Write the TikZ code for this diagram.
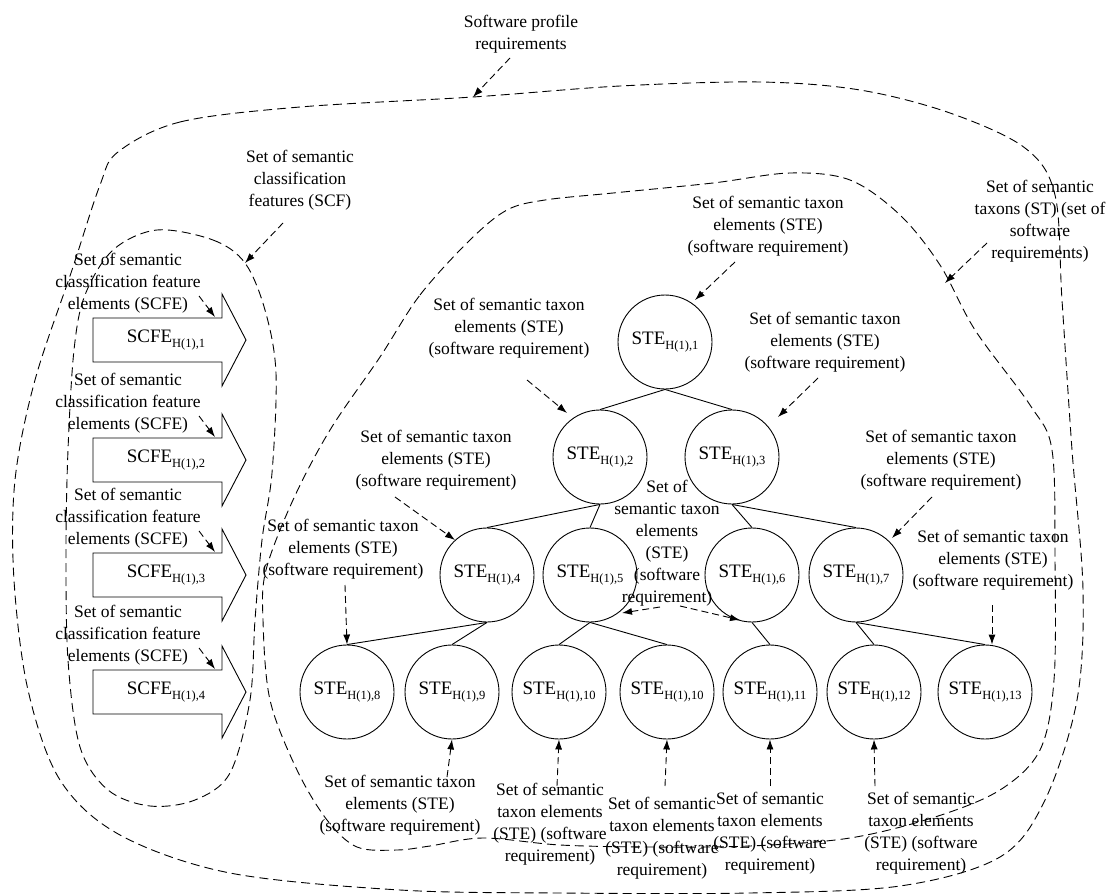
\documentclass[tikz,border=0pt]{standalone}
\usepackage{fontspec}
\setmainfont{Liberation Serif}
\usetikzlibrary{arrows.meta,calc}
\newcommand{\lowsub}[1]{\raisebox{-0.28em}{\fontsize{12.5}{13}\selectfont #1}}
\begin{document}
\begin{tikzpicture}[x=1pt,y=-1pt,
  lbl/.style={align=center, inner sep=0pt, font=\rmfamily\fontsize{17.5}{22}\selectfont},
  ste/.style={circle, draw, line width=0.9pt, minimum size=94pt, inner sep=0pt, font=\rmfamily\fontsize{19}{22}\selectfont},
  treeline/.style={line width=0.9pt},
  darr/.style={dash pattern=on 7pt off 4pt, line width=0.9pt, -{Latex[length=10pt,width=7pt]}},
  bound/.style={dash pattern=on 9pt off 5pt, line width=0.9pt},
  scfebox/.style={line width=0.9pt},
  scfetxt/.style={inner sep=0pt, font=\rmfamily\fontsize{19}{22}\selectfont}]
\useasboundingbox (0,0) rectangle (1117,894);

% boundaries
\draw[bound] plot[smooth cycle, tension=0.55] coordinates {
 (118,152) (180,122) (300,107) (473,97) (620,86) (760,82) (860,90) (950,113) (1025,148)
 (1055,195) (1062,300) (1072,450) (1083,590) (1077,700) (1045,800) (1000,857) (900,886)
 (750,893) (560,893) (400,890) (230,873) (120,835) (60,780) (28,690) (14,580) (15,480)
 (35,380) (72,270) (100,185)};
\draw[bound] plot[smooth cycle, tension=0.55] coordinates {
 (380,357) (420,295) (470,240) (507,210) (545,200) (613,193) (713,183) (790,173) (850,180)
 (900,215) (940,265) (975,330) (1030,405) (1052,450) (1055,560) (1054,680) (1040,750)
 (1000,790) (935,817) (850,838) (750,846) (650,847) (560,845) (483,838) (430,846)
 (397,850) (357,847) (327,820) (297,770) (270,700) (263,620) (266,570) (293,500) (330,430)};
\draw[bound] plot[smooth cycle, tension=0.55] coordinates {
 (157,230) (213,240) (245,263) (265,310) (276,373) (272,473) (262,540) (255,620) (250,700)
 (230,773) (195,800) (150,806) (108,790) (80,747) (68,660) (66,550) (68,450) (74,350)
 (85,295) (113,250)};

% SCFE arrows
\foreach \i/\c in {1/340,2/460,3/575,4/692}{
  \draw[scfebox] (93,{\c-22}) -- (222,{\c-22}) -- (222,{\c-46}) -- (246,\c) -- (222,{\c+46}) -- (222,{\c+22}) -- (93,{\c+22}) -- cycle;
  \node[scfetxt] (scfe\i) at (166,\c) {SCFE\lowsub{H(1),\i}};
  \node[lbl] (scfel\i) at (128,{\c-57}) {Set of semantic\\classification feature\\elements (SCFE)};
  \coordinate (scfes\i) at (199,{\c-44});
  \draw[darr] (scfes\i) -- ($(scfe\i)+(49,-23)$);
}

% tree nodes
\node[ste] (s1) at (665,342) {STE\lowsub{H(1),1}};
\node[ste] (s2) at (600,457) {STE\lowsub{H(1),2}};
\node[ste] (s3) at (732,457) {STE\lowsub{H(1),3}};
\node[ste] (s4) at (487,575) {STE\lowsub{H(1),4}};
\node[ste] (s5) at (590,575) {STE\lowsub{H(1),5}};
\node[ste] (s6) at (752,575) {STE\lowsub{H(1),6}};
\node[ste] (s7) at (856,575) {STE\lowsub{H(1),7}};
\node[ste] (s8) at (347,692) {STE\lowsub{H(1),8}};
\node[ste] (s9) at (452,692) {STE\lowsub{H(1),9}};
\node[ste] (s10) at (559,692) {STE\lowsub{H(1),10}};
\node[ste] (s10b) at (667,692) {STE\lowsub{H(1),10}};
\node[ste] (s11) at (770,692) {STE\lowsub{H(1),11}};
\node[ste] (s12) at (874,692) {STE\lowsub{H(1),12}};
\node[ste] (s13) at (985,692) {STE\lowsub{H(1),13}};

\foreach \a/\b in {s1/s2,s1/s3,s2/s4,s2/s5,s3/s6,s3/s7,s4/s8,s4/s9,s5/s10,s5/s10b,s6/s11,s7/s12,s7/s13}
  \draw[treeline] (\a.south) -- (\b.north);

% labels
\node[lbl] (spr) at (521,34) {Software profile\\requirements};
\node[lbl] (scfl) at (300,180) {Set of semantic\\classification\\features (SCF)};
\node[lbl] (stl) at (1040,221) {Set of semantic\\taxons (ST) (set of\\software\\requirements)};
\node[lbl] (l1) at (768,226) {Set of semantic taxon\\elements (STE)\\(software requirement)};
\node[lbl] (l2) at (509,328) {Set of semantic taxon\\elements (STE)\\(software requirement)};
\node[lbl] (l3) at (825,342) {Set of semantic taxon\\elements (STE)\\(software requirement)};
\node[lbl] (l4) at (436,460) {Set of semantic taxon\\elements (STE)\\(software requirement)};
\node[lbl] (l7) at (941,460) {Set of semantic taxon\\elements (STE)\\(software requirement)};
\node[lbl] (l56) at (667,543) {Set of\\semantic taxon\\elements\\(STE)\\(software\\requirement)};
\node[lbl] (l8) at (343,549) {Set of semantic taxon\\elements (STE)\\(software requirement)};
\node[lbl] (l13) at (993,560) {Set of semantic taxon\\elements (STE)\\(software requirement)};
\node[lbl] (l9) at (400,805) {Set of semantic taxon\\elements (STE)\\(software requirement)};
\node[lbl] (l10) at (550,824) {Set of semantic\\taxon elements\\(STE) (software\\requirement)};
\node[lbl] (l10b) at (662,838) {Set of semantic\\taxon elements\\(STE) (software\\requirement)};
\node[lbl] (l11) at (770,833) {Set of semantic\\taxon elements\\(STE) (software\\requirement)};
\node[lbl] (l12) at (921,833) {Set of semantic\\taxon elements\\(STE) (software\\requirement)};

% label arrows
\coordinate (sprs) at (510,58);   \coordinate (sprt) at (473,97);
\draw[darr] (sprs) -- (sprt);
\coordinate (scfs) at (283,223);  \coordinate (scft) at (245,263);
\draw[darr] (scfs) -- (scft);
\coordinate (sts) at (987,243);   \coordinate (stt) at (945,283);
\draw[darr] (sts) -- (stt);
\coordinate (a1) at (735,262); \draw[darr] (a1) -- ($(s1)+(30,-42)$);
\coordinate (a2) at (527,380); \draw[darr] (a2) -- ($(s2)+(-33,-44)$);
\coordinate (a3) at (818,378); \draw[darr] (a3) -- ($(s3)+(46,-40)$);
\coordinate (a4) at (395,497); \draw[darr] (a4) -- ($(s4)+(-32,-35)$);
\coordinate (a7) at (932,497); \draw[darr] (a7) -- ($(s7)+(36,-37)$);
\coordinate (a5) at (660,607); \draw[darr] (a5) -- ($(s5)+(32,38)$);
\coordinate (a6) at (680,606); \draw[darr] (a6) -- ($(s6)+(-12,45)$);
\coordinate (a8) at (345,585); \draw[darr] (a8) -- (s8.north);
\coordinate (a13) at (992,605); \draw[darr] (a13) -- ($(s13.north)+(7,0)$);
\coordinate (a9) at (447,777); \draw[darr] (a9) -- (s9.south);
\coordinate (a10) at (557,786); \draw[darr] (a10) -- (s10.south);
\coordinate (a10b) at (665,786); \draw[darr] (a10b) -- (s10b.south);
\coordinate (a11) at (770,786); \draw[darr] (a11) -- (s11.south);
\coordinate (a12) at (875,786); \draw[darr] (a12) -- (s12.south);
\end{tikzpicture}
\end{document}
